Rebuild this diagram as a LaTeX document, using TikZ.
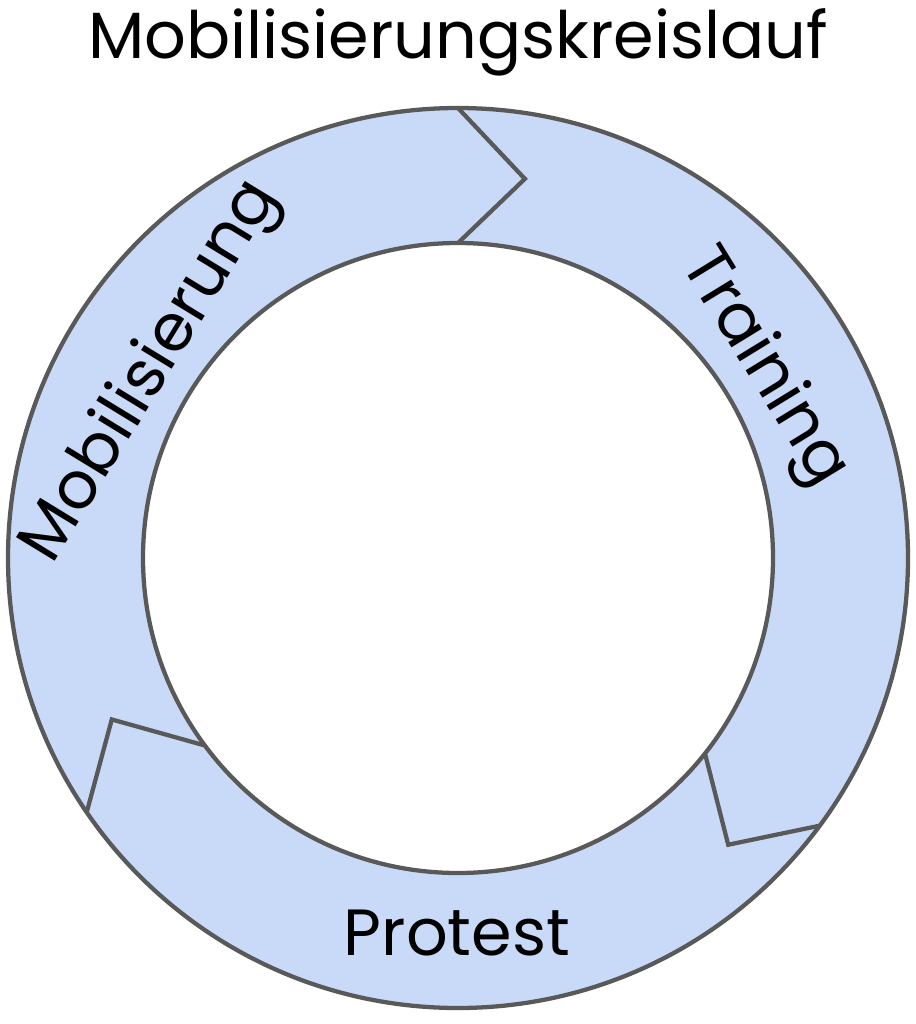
\documentclass[tikz,border=0pt]{standalone}
\usepackage{fontspec}
\setmainfont{Poppins}
\usetikzlibrary{calc}
\definecolor{segfill}{HTML}{C9DAF8}
\definecolor{segline}{HTML}{595959}
\begin{document}
\begin{tikzpicture}[x=0.75pt,y=-0.75pt,
  ring/.style={draw=segline,line width=3.2pt,line join=miter},
  lbl/.style={font=\fontsize{49}{55}\selectfont,inner sep=0pt}]
\useasboundingbox (0,0) rectangle (916,1024);
\coordinate (c) at (458,558);
\fill[segfill,even odd rule] (c) circle[radius=450] (c) circle[radius=315];
\draw[ring] (c) circle[radius=450];
\draw[ring,fill=white] (c) circle[radius=315];
\draw[ring] ($(c)+(-90:450)$) -- ($(c)+(-80:385)$) -- ($(c)+(-90:315)$);
\draw[ring] ($(c)+(36.5:450)$) -- ($(c)+(46.7:394)$) -- ($(c)+(38.5:316)$);
\draw[ring] ($(c)+(145.6:450)$) -- ($(c)+(155:382)$) -- ($(c)+(143.7:316)$);
\node[lbl] (title) at (458,42) {Mobilisierungskreislauf};
\node[lbl,rotate=58.6] (mob) at (152,372) {Mobilisierung};
\node[lbl,rotate=-58.5] (tra) at (763,368) {Training};
\node[lbl] (pro) at (457,933) {Protest};
\end{tikzpicture}
\end{document}
